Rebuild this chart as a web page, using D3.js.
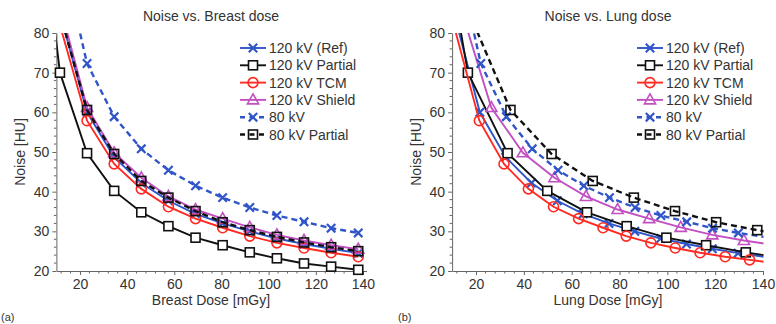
<!DOCTYPE html>
<html><head><meta charset="utf-8">
<script src="https://cdn.jsdelivr.net/npm/d3@7"></script>
<style>
body{margin:0;background:#fff}
svg{display:block}
text{font-family:"Liberation Sans",Arial,Helvetica,sans-serif;fill:#333}
</style>
</head><body>
<svg id="c" width="776" height="324"></svg>
<script>
// ---- data ----
const seriesNames = ["120 kV (Ref)", "120 kV Partial", "120 kV TCM", "120 kV Shield", "80 kV", "80 kV Partial"];
const xTickValues = [20, 40, 60, 80, 100, 120, 140];
const yTickValues = [20, 30, 40, 50, 60, 70, 80];
const panelTitles = ["Noise vs. Breast dose", "Noise vs. Lung dose"];
const xAxisTitles = ["Breast Dose [mGy]", "Lung Dose [mGy]"];
const yAxisTitle = "Noise [HU]";
const panelTags = ["(a)", "(b)"];

// noise [HU] per tube-current step, one list per protocol
const noiseRef       = [85, 60.0, 48.7, 42.2, 37.7, 34.4, 32.0, 30.0, 28.2, 26.8, 25.6, 24.5, 23.6];
const noisePartial   = [99, 70, 49.7, 40.2, 34.8, 31.3, 28.4, 26.5, 24.7, 23.2, 21.9, 21.1, 20.3];
const noiseTCM       = [82, 57.9, 47.0, 40.7, 36.2, 33.2, 30.9, 28.8, 27.1, 25.8, 24.6, 23.6, 22.8, 22.0];
const noiseShield    = [87, 61.2, 49.8, 43.5, 38.8, 35.5, 33.2, 31.0, 29.1, 27.7, 26.5, 25.5];
const noise80        = [102, 72.3, 58.9, 50.8, 45.4, 41.5, 38.5, 36.0, 34.0, 32.4, 30.8, 29.6, 28.6];
const noise80Partial = [85, 60.6, 49.5, 42.7, 38.5, 35.1, 32.3, 30.3, 28.6, 27.2, 26.0, 25.0];

// breast dose [mGy]
const breastDoseRef       = [11.5, 23, 34.5, 46, 57.5, 69, 80.5, 92, 103.5, 115, 126.5, 138];
const breastDosePartial   = [5.75, 11.5, 23, 34.5, 46, 57.5, 69, 80.5, 92, 103.5, 115, 126.5, 138];
const breastDoseTCM       = [11.5, 23, 34.5, 46, 57.5, 69, 80.5, 92, 103.5, 115, 126.5, 138];
const breastDoseShield    = [11.5, 23, 34.5, 46, 57.5, 69, 80.5, 92, 103.5, 115, 126.5, 138];
const breastDose80        = [11.5, 23, 34.5, 46, 57.5, 69, 80.5, 92, 103.5, 115, 126.5, 138];
const breastDose80Partial = [11.5, 23, 34.5, 46, 57.5, 69, 80.5, 92, 103.5, 115, 126.5, 138];

// lung dose [mGy]
const lungDoseRef       = [10.8, 21.6, 32.4, 43.2, 54, 64.8, 75.6, 86.4, 97.2, 108, 118.8, 129.6, 140.4];
const lungDosePartial   = [8.3, 16.6, 33.2, 49.8, 66.4, 83, 99.6, 116.2, 132.8, 149.4];
const lungDoseTCM       = [10.7, 21.4, 31.7, 41.9, 52.4, 62.9, 73.1, 82.8, 93.1, 103.3, 113.7, 124.2, 134.4, 144.8];
const lungDoseShield    = [13.2, 26.4, 39.6, 52.8, 66, 79.2, 92.4, 105.6, 118.8, 132, 145.2];
const lungDose80        = [11.0, 22.0, 32.7, 43.5, 54.3, 65.1, 75.8, 86.5, 97.3, 108.1, 118.9, 129.7, 140.5];
const lungDose80Partial = [17.2, 34.4, 51.6, 68.8, 86, 103.2, 120.4, 137.6, 154.8];

// ---- styles ----
const styles = [
  {color: "#2f55c8", dash: null, marker: "x"},
  {color: "#111111", dash: null, marker: "square", fill: "#fff"},
  {color: "#ff2a22", dash: null, marker: "circle"},
  {color: "#c250c2", dash: null, marker: "triangle"},
  {color: "#2f55c8", dash: "6,4", marker: "x"},
  {color: "#111111", dash: "6,4", marker: "square"}
];

function zip(d, n) { const m = Math.min(d.length, n.length); const r = []; for (let i = 0; i < m; i++) r.push([d[i], n[i]]); return r; }
const noiseLists = [noiseRef, noisePartial, noiseTCM, noiseShield, noise80, noise80Partial];
const breastDoses = [breastDoseRef, breastDosePartial, breastDoseTCM, breastDoseShield, breastDose80, breastDose80Partial];
const lungDoses = [lungDoseRef, lungDosePartial, lungDoseTCM, lungDoseShield, lungDose80, lungDose80Partial];

const panels = [
  {xDomain: [10, 141.5], xRange: [56.4, 366.5], cx: 211, legendX: 240, tagX: 1, series: breastDoses.map((d, i) => zip(d, noiseLists[i]))},
  {xDomain: [10, 140], xRange: [452.1, 763], cx: 608, legendX: 637, tagX: 398, series: lungDoses.map((d, i) => zip(d, noiseLists[i]))}
];

const svg = d3.select("#c");
const yTop = 33, yBot = 271;
const y = d3.scaleLinear().domain([20, 80]).range([yBot, yTop]);

function drawMarker(g, type, st, px, py) {
  const sw = 1.6;
  if (type === "x") {
    g.append("path").attr("d", `M${px-4.2},${py-4.2}L${px+4.2},${py+4.2}M${px-4.2},${py+4.2}L${px+4.2},${py-4.2}`)
      .attr("stroke", st.color).attr("stroke-width", 2.2).attr("fill", "none");
  } else if (type === "square") {
    g.append("rect").attr("x", px-4.5).attr("y", py-4.5).attr("width", 9).attr("height", 9)
      .attr("stroke", st.color).attr("stroke-width", sw).attr("fill", st.fill || "none");
  } else if (type === "circle") {
    g.append("circle").attr("cx", px).attr("cy", py).attr("r", 5)
      .attr("stroke", st.color).attr("stroke-width", sw).attr("fill", "none");
  } else if (type === "triangle") {
    g.append("path").attr("d", `M${px},${py-6}L${px+5.6},${py+4}L${px-5.6},${py+4}Z`)
      .attr("stroke", st.color).attr("stroke-width", sw).attr("fill", "none").attr("stroke-linejoin", "miter");
  }
}

panels.forEach((p, pi) => {
  const x = d3.scaleLinear().domain(p.xDomain).range(p.xRange);
  const g = svg.append("g");
  const clipId = "clip" + pi;
  svg.append("clipPath").attr("id", clipId).append("rect")
    .attr("x", p.xRange[0]).attr("y", yTop).attr("width", x(140) - p.xRange[0] + 0.5).attr("height", yBot - yTop);

  // axes
  const axisColor = "#666";
  const xMinor = d3.range(12, 141, 4).filter(v => !xTickValues.includes(v));
  const yMinor = d3.range(22, 80, 2).filter(v => !yTickValues.includes(v));

  const gx = g.append("g").attr("transform", `translate(0,${yBot})`)
    .call(d3.axisBottom(x).tickValues(xTickValues).tickSize(4).tickSizeOuter(0).tickPadding(4));
  gx.selectAll("text").attr("font-size", 14).style("fill", "#333").attr("font-family", null);
  gx.selectAll("path,line").attr("stroke", axisColor);
  gx.selectAll(".minor").data(xMinor).enter().append("line").attr("class", "minor")
    .attr("x1", d => x(d)).attr("x2", d => x(d)).attr("y1", 0).attr("y2", 2.5).attr("stroke", axisColor);

  const gy = g.append("g").attr("transform", `translate(${p.xRange[0]},0)`)
    .call(d3.axisLeft(y).tickValues(yTickValues).tickSize(4).tickSizeOuter(0).tickPadding(3));
  gy.selectAll("text").attr("font-size", 14).style("fill", "#333").attr("font-family", null);
  gy.selectAll("path,line").attr("stroke", axisColor);
  gy.selectAll(".minor").data(yMinor).enter().append("line").attr("class", "minor")
    .attr("y1", d => y(d)).attr("y2", d => y(d)).attr("x1", 0).attr("x2", -2.5).attr("stroke", axisColor);

  // titles
  g.append("text").attr("x", p.cx).attr("y", 21).attr("text-anchor", "middle").attr("font-size", 14).text(panelTitles[pi]);
  g.append("text").attr("x", p.cx).attr("y", 305).attr("text-anchor", "middle").attr("font-size", 14).text(xAxisTitles[pi]);
  g.append("text").attr("transform", `translate(${p.xRange[0] - 31},${(yTop + yBot) / 2}) rotate(-90)`)
    .attr("text-anchor", "middle").attr("font-size", 14).text(yAxisTitle);
  g.append("text").attr("x", p.tagX).attr("y", 321).attr("font-size", 11).text(panelTags[pi]);

  // series
  const line = d3.line().x(d => x(d[0])).y(d => y(d[1]));
  p.series.forEach((data, si) => {
    const st = styles[si];
    const sg = g.append("g");
    sg.append("path").datum(data).attr("d", line).attr("clip-path", `url(#${clipId})`)
      .attr("fill", "none").attr("stroke", st.color).attr("stroke-width", st.dash ? 2.4 : 1.9)
      .attr("stroke-dasharray", st.dash);
    data.filter(d => d[0] >= 10 && d[0] <= 140 && d[1] <= 80.5).forEach(d => drawMarker(sg, st.marker, st, x(d[0]), y(d[1])));
  });

  // legend
  const lg = g.append("g");
  seriesNames.forEach((name, si) => {
    const st = styles[si];
    const ly = 48 + si * 17.3;
    lg.append("line").attr("x1", p.legendX).attr("x2", p.legendX + 26).attr("y1", ly).attr("y2", ly)
      .attr("stroke", st.color).attr("stroke-width", st.dash ? 2.4 : 1.9).attr("stroke-dasharray", st.dash ? "5,4.5" : null);
    drawMarker(lg, st.marker, st, p.legendX + 13, ly);
    lg.append("text").attr("x", p.legendX + 29).attr("y", ly + 5).attr("font-size", 14).text(name);
  });
});
</script>
</body></html>
